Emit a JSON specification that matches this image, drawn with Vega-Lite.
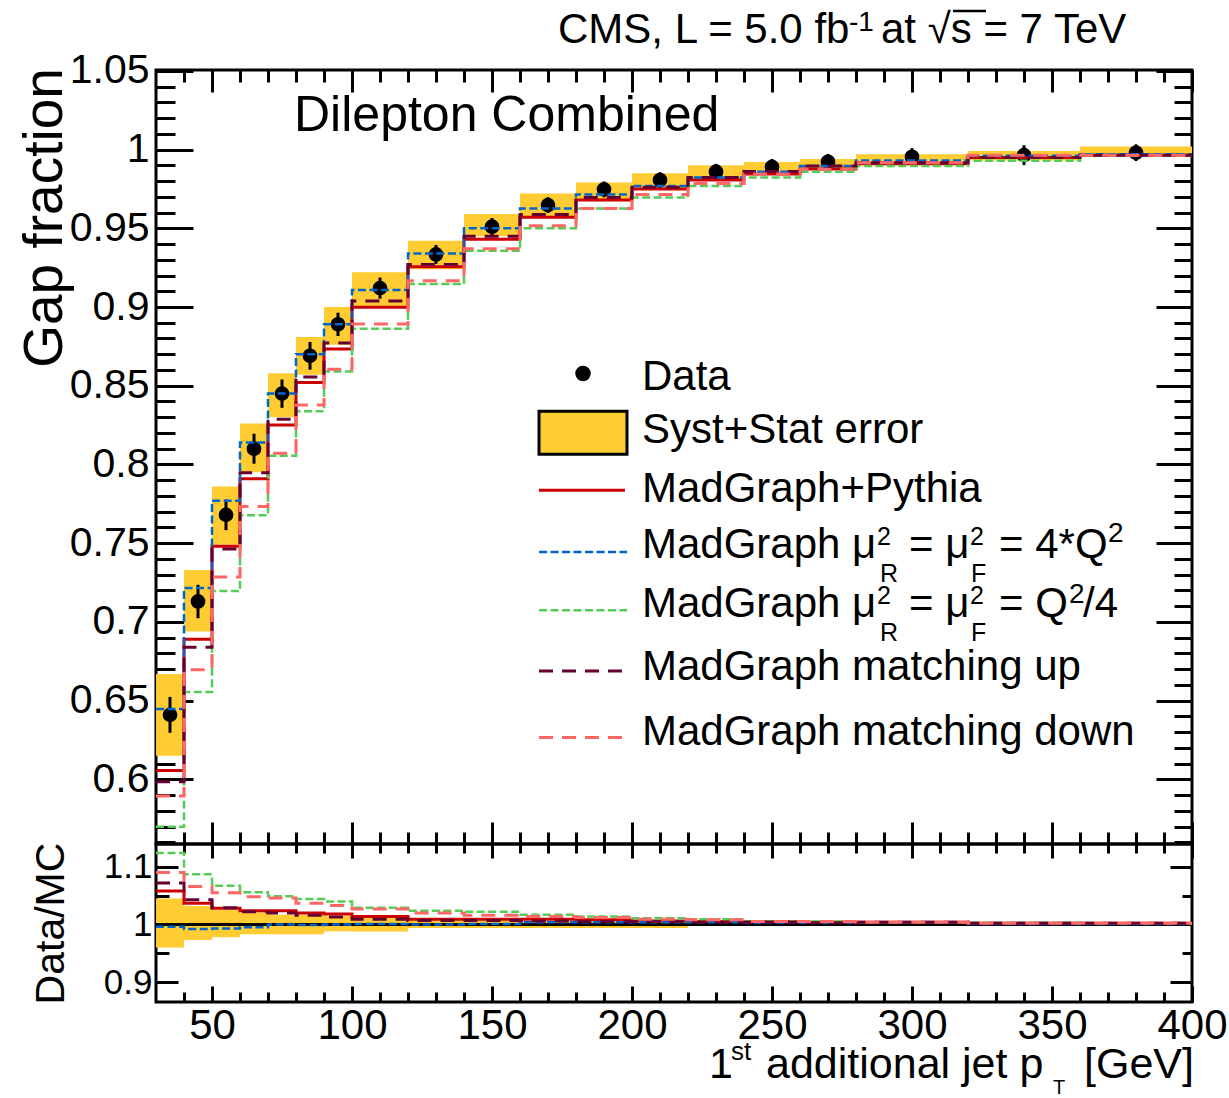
{
"$schema": "https://vega.github.io/schema/vega-lite/v6.json",
"autosize": {"type": "pad"},
"padding": {"left": 15, "top": 7, "right": 0, "bottom": 0},
"background": "white",
"bounds": "flush",
"spacing": 0,
"datasets": {
"bins": [
{"lo":30,"hi":40,"c":35,"d":0.641,"eLo":0.6296,"eHi":0.6524,"bLo":0.615,"bHi":0.667,"rLo":0.96,"rHi":1.045},
{"lo":40,"hi":50,"c":45,"d":0.713,"eLo":0.7024,"eHi":0.7236,"bLo":0.694,"bHi":0.733,"rLo":0.973,"rHi":1.032},
{"lo":50,"hi":60,"c":55,"d":0.768,"eLo":0.7583,"eHi":0.7777,"bLo":0.749,"bHi":0.786,"rLo":0.978,"rHi":1.025},
{"lo":60,"hi":70,"c":65,"d":0.81,"eLo":0.8005,"eHi":0.8195,"bLo":0.795,"bHi":0.826,"rLo":0.983,"rHi":1.021},
{"lo":70,"hi":80,"c":75,"d":0.845,"eLo":0.836,"eHi":0.854,"bLo":0.83,"bHi":0.858,"rLo":0.983,"rHi":1.017},
{"lo":80,"hi":90,"c":85,"d":0.869,"eLo":0.8602,"eHi":0.8778,"bLo":0.857,"bHi":0.881,"rLo":0.983,"rHi":1.017},
{"lo":90,"hi":100,"c":95,"d":0.889,"eLo":0.8816,"eHi":0.8964,"bLo":0.876,"bHi":0.9,"rLo":0.988,"rHi":1.015},
{"lo":100,"hi":120,"c":110,"d":0.912,"eLo":0.9053,"eHi":0.9187,"bLo":0.9,"bHi":0.922,"rLo":0.988,"rHi":1.015},
{"lo":120,"hi":140,"c":130,"d":0.9334,"eLo":0.9274,"eHi":0.9394,"bLo":0.924,"bHi":0.942,"rLo":0.994,"rHi":1.01},
{"lo":140,"hi":160,"c":150,"d":0.951,"eLo":0.9455,"eHi":0.9565,"bLo":0.945,"bHi":0.959,"rLo":0.994,"rHi":1.01},
{"lo":160,"hi":180,"c":170,"d":0.9647,"eLo":0.9597,"eHi":0.9697,"bLo":0.957,"bHi":0.972,"rLo":0.994,"rHi":1.006},
{"lo":180,"hi":200,"c":190,"d":0.9747,"eLo":0.9697,"eHi":0.9797,"bLo":0.968,"bHi":0.979,"rLo":0.994,"rHi":1.006},
{"lo":200,"hi":220,"c":210,"d":0.9806,"eLo":0.9756,"eHi":0.9856,"bLo":0.9755,"bHi":0.985,"rLo":0.994,"rHi":1.006},
{"lo":220,"hi":240,"c":230,"d":0.9859,"eLo":0.9809,"eHi":0.9909,"bLo":0.98,"bHi":0.99,"rLo":0.998,"rHi":1.005},
{"lo":240,"hi":260,"c":250,"d":0.989,"eLo":0.984,"eHi":0.994,"bLo":0.986,"bHi":0.992,"rLo":0.999,"rHi":1.003},
{"lo":260,"hi":280,"c":270,"d":0.9922,"eLo":0.9872,"eHi":0.9972,"bLo":0.988,"bHi":0.994,"rLo":0.999,"rHi":1.003},
{"lo":280,"hi":320,"c":300,"d":0.9954,"eLo":0.9899,"eHi":1.0009,"bLo":0.99,"bHi":0.997,"rLo":0.999,"rHi":1.002},
{"lo":320,"hi":360,"c":340,"d":0.9964,"eLo":0.9901,"eHi":1.0027,"bLo":0.993,"bHi":0.999,"rLo":0.999,"rHi":1.002},
{"lo":360,"hi":400,"c":380,"d":0.998,"eLo":0.9927,"eHi":1.0033,"bLo":0.997,"bHi":1.002,"rLo":0.999,"rHi":1.002}
],
"mc": [
{"s":"pythia","x":30,"g":0.6056,"r":1.058},{"s":"pythia","x":40,"g":0.689,"r":1.037},{"s":"pythia","x":50,"g":0.748,"r":1.028},{"s":"pythia","x":60,"g":0.791,"r":1.024},{"s":"pythia","x":70,"g":0.825,"r":1.024},{"s":"pythia","x":80,"g":0.852,"r":1.02},{"s":"pythia","x":90,"g":0.8733,"r":1.018},{"s":"pythia","x":100,"g":0.8998,"r":1.014},{"s":"pythia","x":120,"g":0.9256,"r":1.009},{"s":"pythia","x":140,"g":0.943,"r":1.009},{"s":"pythia","x":160,"g":0.957,"r":1.009},{"s":"pythia","x":180,"g":0.968,"r":1.008},{"s":"pythia","x":200,"g":0.975,"r":1.006},{"s":"pythia","x":220,"g":0.9806,"r":1.005},{"s":"pythia","x":240,"g":0.9844,"r":1.005},{"s":"pythia","x":260,"g":0.9876,"r":1.004},{"s":"pythia","x":280,"g":0.991,"r":1.004},{"s":"pythia","x":320,"g":0.995,"r":1.002},{"s":"pythia","x":360,"g":0.9964,"r":1.002},{"s":"pythia","x":400,"g":0.9964,"r":1.002},
{"s":"q4","x":30,"g":0.6447,"r":0.996},{"s":"q4","x":40,"g":0.7215,"r":0.992},{"s":"q4","x":50,"g":0.777,"r":0.993},{"s":"q4","x":60,"g":0.814,"r":0.995},{"s":"q4","x":70,"g":0.845,"r":1.0},{"s":"q4","x":80,"g":0.87,"r":0.999},{"s":"q4","x":90,"g":0.889,"r":1.0},{"s":"q4","x":100,"g":0.9108,"r":1.001},{"s":"q4","x":120,"g":0.934,"r":1.0},{"s":"q4","x":140,"g":0.95,"r":1.001},{"s":"q4","x":160,"g":0.9626,"r":1.004},{"s":"q4","x":180,"g":0.9715,"r":1.004},{"s":"q4","x":200,"g":0.9768,"r":1.004},{"s":"q4","x":220,"g":0.9823,"r":1.004},{"s":"q4","x":240,"g":0.9859,"r":1.003},{"s":"q4","x":260,"g":0.9895,"r":1.003},{"s":"q4","x":280,"g":0.993,"r":1.003},{"s":"q4","x":320,"g":0.996,"r":1.001},{"s":"q4","x":360,"g":0.997,"r":1.001},{"s":"q4","x":400,"g":0.997,"r":1.001},
{"s":"qd4","x":30,"g":0.57,"r":1.124},{"s":"qd4","x":40,"g":0.6555,"r":1.087},{"s":"qd4","x":50,"g":0.7196,"r":1.067},{"s":"qd4","x":60,"g":0.7678,"r":1.056},{"s":"qd4","x":70,"g":0.8055,"r":1.049},{"s":"qd4","x":80,"g":0.8338,"r":1.044},{"s":"qd4","x":90,"g":0.859,"r":1.04},{"s":"qd4","x":100,"g":0.8862,"r":1.029},{"s":"qd4","x":120,"g":0.9146,"r":1.024},{"s":"qd4","x":140,"g":0.9357,"r":1.022},{"s":"qd4","x":160,"g":0.95,"r":1.017},{"s":"qd4","x":180,"g":0.9626,"r":1.014},{"s":"qd4","x":200,"g":0.9696,"r":1.011},{"s":"qd4","x":220,"g":0.9768,"r":1.009},{"s":"qd4","x":240,"g":0.9823,"r":1.005},{"s":"qd4","x":260,"g":0.9859,"r":1.005},{"s":"qd4","x":280,"g":0.9895,"r":1.004},{"s":"qd4","x":320,"g":0.9928,"r":1.003},{"s":"qd4","x":360,"g":0.996,"r":1.002},{"s":"qd4","x":400,"g":0.996,"r":1.002},
{"s":"mup","x":30,"g":0.5986,"r":1.072},{"s":"mup","x":40,"g":0.684,"r":1.043},{"s":"mup","x":50,"g":0.7463,"r":1.029},{"s":"mup","x":60,"g":0.7947,"r":1.022},{"s":"mup","x":70,"g":0.8287,"r":1.02},{"s":"mup","x":80,"g":0.8556,"r":1.016},{"s":"mup","x":90,"g":0.8772,"r":1.013},{"s":"mup","x":100,"g":0.9038,"r":1.009},{"s":"mup","x":120,"g":0.927,"r":1.007},{"s":"mup","x":140,"g":0.9449,"r":1.007},{"s":"mup","x":160,"g":0.9588,"r":1.006},{"s":"mup","x":180,"g":0.9696,"r":1.005},{"s":"mup","x":200,"g":0.976,"r":1.005},{"s":"mup","x":220,"g":0.9823,"r":1.004},{"s":"mup","x":240,"g":0.986,"r":1.004},{"s":"mup","x":260,"g":0.9895,"r":1.003},{"s":"mup","x":280,"g":0.9916,"r":1.004},{"s":"mup","x":320,"g":0.995,"r":1.002},{"s":"mup","x":360,"g":0.9963,"r":1.002},{"s":"mup","x":400,"g":0.9963,"r":1.002},
{"s":"mdown","x":30,"g":0.5895,"r":1.09},{"s":"mdown","x":40,"g":0.6697,"r":1.066},{"s":"mdown","x":50,"g":0.7285,"r":1.055},{"s":"mdown","x":60,"g":0.7733,"r":1.048},{"s":"mdown","x":70,"g":0.8072,"r":1.046},{"s":"mdown","x":80,"g":0.8378,"r":1.037},{"s":"mdown","x":90,"g":0.8605,"r":1.033},{"s":"mdown","x":100,"g":0.8892,"r":1.027},{"s":"mdown","x":120,"g":0.9167,"r":1.02},{"s":"mdown","x":140,"g":0.937,"r":1.016},{"s":"mdown","x":160,"g":0.9516,"r":1.014},{"s":"mdown","x":180,"g":0.9626,"r":1.012},{"s":"mdown","x":200,"g":0.9715,"r":1.009},{"s":"mdown","x":220,"g":0.9785,"r":1.008},{"s":"mdown","x":240,"g":0.9844,"r":1.005},{"s":"mdown","x":260,"g":0.9874,"r":1.005},{"s":"mdown","x":280,"g":0.9916,"r":1.004},{"s":"mdown","x":320,"g":0.9964,"r":1.002},{"s":"mdown","x":360,"g":0.9964,"r":1.002},{"s":"mdown","x":400,"g":0.9964,"r":1.002}
]
},
"vconcat": [
{
"width": 1036,
"height": 774,
"layer": [
{"data": {"name": "bins"}, "mark": {"type": "rect", "fill": "#ffcc33"},
 "encoding": {
  "x": {"field": "lo", "type": "quantitative", "scale": {"domain": [30, 400], "nice": false, "zero": false}, "axis": {"orient": "bottom", "values": [50,100,150,200,250,300,350,400], "tickSize": -22, "title": null}},
  "x2": {"field": "hi"},
  "y": {"field": "bLo", "type": "quantitative", "scale": {"domain": [0.559, 1.0505], "nice": false, "zero": false}, "axis": {"orient": "left", "values": [0.6,0.65,0.7,0.75,0.8,0.85,0.9,0.95,1,1.05], "format": "~g", "tickSize": -37, "labels": true, "labelFontSize": 41, "labelPadding": 44, "title": "Gap fraction", "titleFontSize": 55, "titleAngle": -90, "titleX": -95, "titleY": 147.5, "titleAlign": "center", "titleBaseline": "alphabetic"}},
  "y2": {"field": "bHi"}}},
{"data": {"name": "bins"}, "mark": {"type": "rule", "color": "black", "strokeWidth": 3},
 "encoding": {
  "x": {"field": "c", "type": "quantitative", "axis": {"orient": "bottom", "values": [40,60,70,80,90,110,120,130,140,160,170,180,190,210,220,230,240,260,270,280,290,310,320,330,340,360,370,380,390], "tickSize": -12, "title": null}},
  "y": {"field": "eLo", "type": "quantitative", "axis": {"orient": "left", "values": [0.56,0.57,0.58,0.59,0.61,0.62,0.63,0.64,0.66,0.67,0.68,0.69,0.71,0.72,0.73,0.74,0.76,0.77,0.78,0.79,0.81,0.82,0.83,0.84,0.86,0.87,0.88,0.89,0.91,0.92,0.93,0.94,0.96,0.97,0.98,0.99,1.01,1.02,1.03,1.04], "tickSize": -19, "title": null}},
  "y2": {"field": "eHi"}}},
{"data": {"name": "bins"}, "mark": {"type": "point", "filled": true, "color": "black", "size": 218, "opacity": 1},
 "encoding": {
  "x": {"field": "c", "type": "quantitative", "axis": {"orient": "top", "values": [50,100,150,200,250,300,350,400], "tickSize": -22, "title": null}},
  "y": {"field": "d", "type": "quantitative", "axis": {"orient": "right", "values": [0.6,0.65,0.7,0.75,0.8,0.85,0.9,0.95,1,1.05], "tickSize": -36, "title": null}}}},
{"data": {"name": "mc"}, "transform": [{"filter": "datum.s === 'pythia'"}], "mark": {"type": "line", "color": "#cc0000", "strokeWidth": 3, "interpolate": "step-after"},
 "encoding": {
  "x": {"field": "x", "type": "quantitative", "axis": {"orient": "top", "values": [40,60,70,80,90,110,120,130,140,160,170,180,190,210,220,230,240,260,270,280,290,310,320,330,340,360,370,380,390], "tickSize": -12, "title": null}},
  "y": {"field": "g", "type": "quantitative", "axis": {"orient": "right", "values": [0.56,0.57,0.58,0.59,0.61,0.62,0.63,0.64,0.66,0.67,0.68,0.69,0.71,0.72,0.73,0.74,0.76,0.77,0.78,0.79,0.81,0.82,0.83,0.84,0.86,0.87,0.88,0.89,0.91,0.92,0.93,0.94,0.96,0.97,0.98,0.99,1.01,1.02,1.03,1.04], "tickSize": -18, "title": null}}}},
{"data": {"name": "mc"}, "transform": [{"filter": "datum.s === 'q4'"}], "mark": {"type": "line", "color": "#0066cc", "strokeWidth": 2.5, "strokeDash": [8, 3.5], "interpolate": "step-after"},
 "encoding": {"x": {"field": "x", "type": "quantitative", "axis": null}, "y": {"field": "g", "type": "quantitative", "axis": null}}},
{"data": {"name": "mc"}, "transform": [{"filter": "datum.s === 'qd4'"}], "mark": {"type": "line", "color": "#55cc55", "strokeWidth": 2.5, "strokeDash": [8, 3.5], "interpolate": "step-after"},
 "encoding": {"x": {"field": "x", "type": "quantitative", "axis": null}, "y": {"field": "g", "type": "quantitative", "axis": null}}},
{"data": {"name": "mc"}, "transform": [{"filter": "datum.s === 'mup'"}], "mark": {"type": "line", "color": "#660033", "strokeWidth": 3, "strokeDash": [14, 9], "interpolate": "step-after"},
 "encoding": {"x": {"field": "x", "type": "quantitative", "axis": null}, "y": {"field": "g", "type": "quantitative", "axis": null}}},
{"data": {"name": "mc"}, "transform": [{"filter": "datum.s === 'mdown'"}], "mark": {"type": "line", "color": "#ff6666", "strokeWidth": 3, "strokeDash": [14, 9], "interpolate": "step-after"},
 "encoding": {"x": {"field": "x", "type": "quantitative", "axis": null}, "y": {"field": "g", "type": "quantitative", "axis": null}}},
{"data": {"values": [{}]}, "mark": {"type": "point", "filled": true, "color": "black", "size": 240, "opacity": 1},
 "encoding": {"x": {"datum": 182.5, "type": "quantitative", "axis": null}, "y": {"datum": 0.85783, "type": "quantitative", "axis": null}}},
{"data": {"values": [{}]}, "mark": {"type": "rect", "fill": "#ffcc33", "stroke": "black", "strokeWidth": 3},
 "encoding": {"x": {"datum": 166.79, "type": "quantitative", "axis": null}, "x2": {"datum": 198.21}, "y": {"datum": 0.83388, "type": "quantitative", "axis": null}, "y2": {"datum": 0.80657}}},
{"data": {"values": [{}]}, "mark": {"type": "rule", "color": "#cc0000", "strokeWidth": 3},
 "encoding": {"x": {"datum": 166.79, "type": "quantitative", "axis": null}, "x2": {"datum": 197.5}, "y": {"datum": 0.7837, "type": "quantitative", "axis": null}}},
{"data": {"values": [{}]}, "mark": {"type": "rule", "color": "#0066cc", "strokeWidth": 2.5, "strokeDash": [8, 3.5]},
 "encoding": {"x": {"datum": 166.79, "type": "quantitative", "axis": null}, "x2": {"datum": 198.21}, "y": {"datum": 0.7445, "type": "quantitative", "axis": null}}},
{"data": {"values": [{}]}, "mark": {"type": "rule", "color": "#55cc55", "strokeWidth": 2.5, "strokeDash": [8, 3.5]},
 "encoding": {"x": {"datum": 166.79, "type": "quantitative", "axis": null}, "x2": {"datum": 198.21}, "y": {"datum": 0.70747, "type": "quantitative", "axis": null}}},
{"data": {"values": [{}]}, "mark": {"type": "rule", "color": "#660033", "strokeWidth": 3, "strokeDash": [14, 9]},
 "encoding": {"x": {"datum": 166.79, "type": "quantitative", "axis": null}, "x2": {"datum": 196.64}, "y": {"datum": 0.6689, "type": "quantitative", "axis": null}}},
{"data": {"values": [{}]}, "mark": {"type": "rule", "color": "#ff6666", "strokeWidth": 3, "strokeDash": [14, 9]},
 "encoding": {"x": {"datum": 166.79, "type": "quantitative", "axis": null}, "x2": {"datum": 196.64}, "y": {"datum": 0.62668, "type": "quantitative", "axis": null}}},
{"data": {"values": [{}]}, "mark": {"type": "text", "text": "Data", "align": "left", "baseline": "alphabetic", "fontSize": 42, "color": "black"},
 "encoding": {"x": {"datum": 203.57, "type": "quantitative", "axis": null}, "y": {"datum": 0.84722, "type": "quantitative", "axis": null}}},
{"data": {"values": [{}]}, "mark": {"type": "text", "text": "Syst+Stat error", "align": "left", "baseline": "alphabetic", "fontSize": 42, "color": "black"},
 "encoding": {"x": {"datum": 203.57, "type": "quantitative", "axis": null}, "y": {"datum": 0.81336, "type": "quantitative", "axis": null}}},
{"data": {"values": [{}]}, "mark": {"type": "text", "text": "MadGraph+Pythia", "align": "left", "baseline": "alphabetic", "fontSize": 42, "color": "black"},
 "encoding": {"x": {"datum": 203.57, "type": "quantitative", "axis": null}, "y": {"datum": 0.77627, "type": "quantitative", "axis": null}}},
{"data": {"values": [{}]}, "mark": {"type": "text", "text": "MadGraph μ", "align": "left", "baseline": "alphabetic", "fontSize": 42, "color": "black"},
 "encoding": {"x": {"datum": 203.57, "type": "quantitative", "axis": null}, "y": {"datum": 0.74031, "type": "quantitative", "axis": null}}},
{"data": {"values": [{}]}, "mark": {"type": "text", "text": "2", "align": "left", "baseline": "alphabetic", "fontSize": 25, "color": "black"},
 "encoding": {"x": {"datum": 287.5, "type": "quantitative", "axis": null}, "y": {"datum": 0.74876, "type": "quantitative", "axis": null}}},
{"data": {"values": [{}]}, "mark": {"type": "text", "text": "R", "align": "left", "baseline": "alphabetic", "fontSize": 25, "color": "black"},
 "encoding": {"x": {"datum": 288.57, "type": "quantitative", "axis": null}, "y": {"datum": 0.72526, "type": "quantitative", "axis": null}}},
{"data": {"values": [{}]}, "mark": {"type": "text", "text": "= μ", "align": "left", "baseline": "alphabetic", "fontSize": 42, "color": "black"},
 "encoding": {"x": {"datum": 298.93, "type": "quantitative", "axis": null}, "y": {"datum": 0.74031, "type": "quantitative", "axis": null}}},
{"data": {"values": [{}]}, "mark": {"type": "text", "text": "2", "align": "left", "baseline": "alphabetic", "fontSize": 25, "color": "black"},
 "encoding": {"x": {"datum": 320.72, "type": "quantitative", "axis": null}, "y": {"datum": 0.74876, "type": "quantitative", "axis": null}}},
{"data": {"values": [{}]}, "mark": {"type": "text", "text": "F", "align": "left", "baseline": "alphabetic", "fontSize": 25, "color": "black"},
 "encoding": {"x": {"datum": 321.07, "type": "quantitative", "axis": null}, "y": {"datum": 0.72526, "type": "quantitative", "axis": null}}},
{"data": {"values": [{}]}, "mark": {"type": "text", "text": "= 4*Q", "align": "left", "baseline": "alphabetic", "fontSize": 42, "color": "black"},
 "encoding": {"x": {"datum": 331.07, "type": "quantitative", "axis": null}, "y": {"datum": 0.74031, "type": "quantitative", "axis": null}}},
{"data": {"values": [{}]}, "mark": {"type": "text", "text": "2", "align": "left", "baseline": "alphabetic", "fontSize": 28, "color": "black"},
 "encoding": {"x": {"datum": 370.0, "type": "quantitative", "axis": null}, "y": {"datum": 0.75085, "type": "quantitative", "axis": null}}},
{"data": {"values": [{}]}, "mark": {"type": "text", "text": "MadGraph μ", "align": "left", "baseline": "alphabetic", "fontSize": 42, "color": "black"},
 "encoding": {"x": {"datum": 203.57, "type": "quantitative", "axis": null}, "y": {"datum": 0.70321, "type": "quantitative", "axis": null}}},
{"data": {"values": [{}]}, "mark": {"type": "text", "text": "2", "align": "left", "baseline": "alphabetic", "fontSize": 25, "color": "black"},
 "encoding": {"x": {"datum": 287.5, "type": "quantitative", "axis": null}, "y": {"datum": 0.71166, "type": "quantitative", "axis": null}}},
{"data": {"values": [{}]}, "mark": {"type": "text", "text": "R", "align": "left", "baseline": "alphabetic", "fontSize": 25, "color": "black"},
 "encoding": {"x": {"datum": 288.57, "type": "quantitative", "axis": null}, "y": {"datum": 0.68816, "type": "quantitative", "axis": null}}},
{"data": {"values": [{}]}, "mark": {"type": "text", "text": "= μ", "align": "left", "baseline": "alphabetic", "fontSize": 42, "color": "black"},
 "encoding": {"x": {"datum": 298.93, "type": "quantitative", "axis": null}, "y": {"datum": 0.70321, "type": "quantitative", "axis": null}}},
{"data": {"values": [{}]}, "mark": {"type": "text", "text": "2", "align": "left", "baseline": "alphabetic", "fontSize": 25, "color": "black"},
 "encoding": {"x": {"datum": 320.72, "type": "quantitative", "axis": null}, "y": {"datum": 0.71166, "type": "quantitative", "axis": null}}},
{"data": {"values": [{}]}, "mark": {"type": "text", "text": "F", "align": "left", "baseline": "alphabetic", "fontSize": 25, "color": "black"},
 "encoding": {"x": {"datum": 321.07, "type": "quantitative", "axis": null}, "y": {"datum": 0.68816, "type": "quantitative", "axis": null}}},
{"data": {"values": [{}]}, "mark": {"type": "text", "text": "= Q", "align": "left", "baseline": "alphabetic", "fontSize": 42, "color": "black"},
 "encoding": {"x": {"datum": 331.07, "type": "quantitative", "axis": null}, "y": {"datum": 0.70321, "type": "quantitative", "axis": null}}},
{"data": {"values": [{}]}, "mark": {"type": "text", "text": "2", "align": "left", "baseline": "alphabetic", "fontSize": 28, "color": "black"},
 "encoding": {"x": {"datum": 356.07, "type": "quantitative", "axis": null}, "y": {"datum": 0.71191, "type": "quantitative", "axis": null}}},
{"data": {"values": [{}]}, "mark": {"type": "text", "text": "/4", "align": "left", "baseline": "alphabetic", "fontSize": 42, "color": "black"},
 "encoding": {"x": {"datum": 361.07, "type": "quantitative", "axis": null}, "y": {"datum": 0.70321, "type": "quantitative", "axis": null}}},
{"data": {"values": [{}]}, "mark": {"type": "text", "text": "MadGraph matching up", "align": "left", "baseline": "alphabetic", "fontSize": 42, "color": "black"},
 "encoding": {"x": {"datum": 203.57, "type": "quantitative", "axis": null}, "y": {"datum": 0.66344, "type": "quantitative", "axis": null}}},
{"data": {"values": [{}]}, "mark": {"type": "text", "text": "MadGraph matching down", "align": "left", "baseline": "alphabetic", "fontSize": 42, "color": "black"},
 "encoding": {"x": {"datum": 203.57, "type": "quantitative", "axis": null}, "y": {"datum": 0.6216, "type": "quantitative", "axis": null}}},
{"data": {"values": [{}]}, "mark": {"type": "text", "text": "Dilepton Combined", "align": "left", "baseline": "alphabetic", "fontSize": 50, "color": "black"},
 "encoding": {"x": {"datum": 79.29, "type": "quantitative", "axis": null}, "y": {"datum": 1.01194, "type": "quantitative", "axis": null}}},
{"data": {"values": [{}]}, "mark": {"type": "text", "text": "CMS, L = 5.0 fb", "align": "left", "baseline": "alphabetic", "fontSize": 42, "color": "black"},
 "encoding": {"x": {"datum": 173.57, "type": "quantitative", "axis": null}, "y": {"datum": 1.06765, "type": "quantitative", "axis": null}}},
{"data": {"values": [{}]}, "mark": {"type": "text", "text": "-1", "align": "left", "baseline": "alphabetic", "fontSize": 28, "color": "black"},
 "encoding": {"x": {"datum": 277.5, "type": "quantitative", "axis": null}, "y": {"datum": 1.075, "type": "quantitative", "axis": null}}},
{"data": {"values": [{}]}, "mark": {"type": "text", "text": "at √s = 7 TeV", "align": "left", "baseline": "alphabetic", "fontSize": 42, "color": "black"},
 "encoding": {"x": {"datum": 288.93, "type": "quantitative", "axis": null}, "y": {"datum": 1.06765, "type": "quantitative", "axis": null}}},
{"data": {"values": [{}]}, "mark": {"type": "rule", "color": "black", "strokeWidth": 2.5},
 "encoding": {"x": {"datum": 314.64, "type": "quantitative", "axis": null}, "x2": {"datum": 326.43}, "y": {"datum": 1.08798, "type": "quantitative", "axis": null}}}
],
"resolve": {"axis": {"x": "independent", "y": "independent"}}
},
{
"width": 1036,
"height": 158,
"layer": [
{"data": {"name": "bins"}, "mark": {"type": "rect", "fill": "#ffcc33"},
 "encoding": {
  "x": {"field": "lo", "type": "quantitative", "scale": {"domain": [30, 400], "nice": false, "zero": false}, "axis": {"orient": "bottom", "values": [50,100,150,200,250,300,350,400], "format": "d", "tickSize": -16, "labels": true, "labelFontSize": 42, "labelPadding": 19, "title": null}},
  "x2": {"field": "hi"},
  "y": {"field": "rLo", "type": "quantitative", "scale": {"domain": [0.8656, 1.1395], "nice": false, "zero": false}, "axis": {"orient": "left", "values": [0.9, 1, 1.1], "format": "~g", "tickSize": -22, "labels": true, "labelFontSize": 35, "labelPadding": 26, "title": "Data/MC", "titleFontSize": 41, "titleAngle": -90, "titleX": -93, "titleY": 79, "titleAlign": "center", "titleBaseline": "alphabetic"}},
  "y2": {"field": "rHi"}}},
{"data": {"values": [{}]}, "mark": {"type": "rule", "color": "black", "strokeWidth": 3},
 "encoding": {"y": {"datum": 1, "type": "quantitative", "axis": {"orient": "right", "values": [0.9, 1, 1.1], "tickSize": -22, "title": null}}}},
{"data": {"name": "mc"}, "transform": [{"filter": "datum.s === 'pythia'"}], "mark": {"type": "line", "color": "#cc0000", "strokeWidth": 3, "interpolate": "step-after"},
 "encoding": {
  "x": {"field": "x", "type": "quantitative", "axis": {"orient": "top", "values": [50,100,150,200,250,300,350,400], "tickSize": -14, "title": null}},
  "y": {"field": "r", "type": "quantitative", "axis": {"orient": "left", "values": [0.95, 1.05], "tickSize": -13, "title": null}}}},
{"data": {"name": "mc"}, "transform": [{"filter": "datum.s === 'q4'"}], "mark": {"type": "line", "color": "#0066cc", "strokeWidth": 2.5, "strokeDash": [8, 3.5], "interpolate": "step-after"},
 "encoding": {
  "x": {"field": "x", "type": "quantitative", "axis": {"orient": "bottom", "values": [40,60,70,80,90,110,120,130,140,160,170,180,190,210,220,230,240,260,270,280,290,310,320,330,340,360,370,380,390], "tickSize": -10, "title": null}},
  "y": {"field": "r", "type": "quantitative", "axis": {"orient": "right", "values": [0.95, 1.05], "tickSize": -10, "title": null}}}},
{"data": {"name": "mc"}, "transform": [{"filter": "datum.s === 'qd4'"}], "mark": {"type": "line", "color": "#55cc55", "strokeWidth": 2.5, "strokeDash": [8, 3.5], "interpolate": "step-after"},
 "encoding": {
  "x": {"field": "x", "type": "quantitative", "axis": {"orient": "top", "values": [40,60,70,80,90,110,120,130,140,160,170,180,190,210,220,230,240,260,270,280,290,310,320,330,340,360,370,380,390], "tickSize": -9, "title": null}},
  "y": {"field": "r", "type": "quantitative", "axis": null}}},
{"data": {"name": "mc"}, "transform": [{"filter": "datum.s === 'mup'"}], "mark": {"type": "line", "color": "#660033", "strokeWidth": 3, "strokeDash": [14, 9], "interpolate": "step-after"},
 "encoding": {"x": {"field": "x", "type": "quantitative", "axis": null}, "y": {"field": "r", "type": "quantitative", "axis": null}}},
{"data": {"name": "mc"}, "transform": [{"filter": "datum.s === 'mdown'"}], "mark": {"type": "line", "color": "#ff6666", "strokeWidth": 3, "strokeDash": [14, 9], "interpolate": "step-after"},
 "encoding": {"x": {"field": "x", "type": "quantitative", "axis": null}, "y": {"field": "r", "type": "quantitative", "axis": null}}},
{"data": {"values": [{}]}, "mark": {"type": "text", "text": "1", "align": "left", "baseline": "alphabetic", "fontSize": 43, "color": "black"},
 "encoding": {"x": {"datum": 227.5, "type": "quantitative", "axis": null}, "y": {"datum": 0.73395, "type": "quantitative", "axis": null}}},
{"data": {"values": [{}]}, "mark": {"type": "text", "text": "st", "align": "left", "baseline": "alphabetic", "fontSize": 26, "color": "black"},
 "encoding": {"x": {"datum": 235.36, "type": "quantitative", "axis": null}, "y": {"datum": 0.76515, "type": "quantitative", "axis": null}}},
{"data": {"values": [{}]}, "mark": {"type": "text", "text": "additional jet p", "align": "left", "baseline": "alphabetic", "fontSize": 43, "color": "black"},
 "encoding": {"x": {"datum": 247.86, "type": "quantitative", "axis": null}, "y": {"datum": 0.73395, "type": "quantitative", "axis": null}}},
{"data": {"values": [{}]}, "mark": {"type": "text", "text": "T", "align": "left", "baseline": "alphabetic", "fontSize": 20, "color": "black"},
 "encoding": {"x": {"datum": 350.36, "type": "quantitative", "axis": null}, "y": {"datum": 0.70623, "type": "quantitative", "axis": null}}},
{"data": {"values": [{}]}, "mark": {"type": "text", "text": "[GeV]", "align": "right", "baseline": "alphabetic", "fontSize": 43, "color": "black"},
 "encoding": {"x": {"datum": 400.71, "type": "quantitative", "axis": null}, "y": {"datum": 0.73395, "type": "quantitative", "axis": null}}}
],
"resolve": {"axis": {"x": "independent", "y": "independent"}}
}
],
"config": {
"font": "Liberation Sans",
"view": {"stroke": "black", "strokeWidth": 3},
"concat": {"spacing": 0},
"axis": {"domain": false, "grid": false, "labels": false, "tickColor": "black", "tickWidth": 3, "labelColor": "black", "labelFont": "Liberation Sans", "titleFont": "Liberation Sans", "titleColor": "black", "titleFontWeight": "normal", "labelFlush": false, "labelOverlap": false},
"text": {"font": "Liberation Sans"}
}
}
